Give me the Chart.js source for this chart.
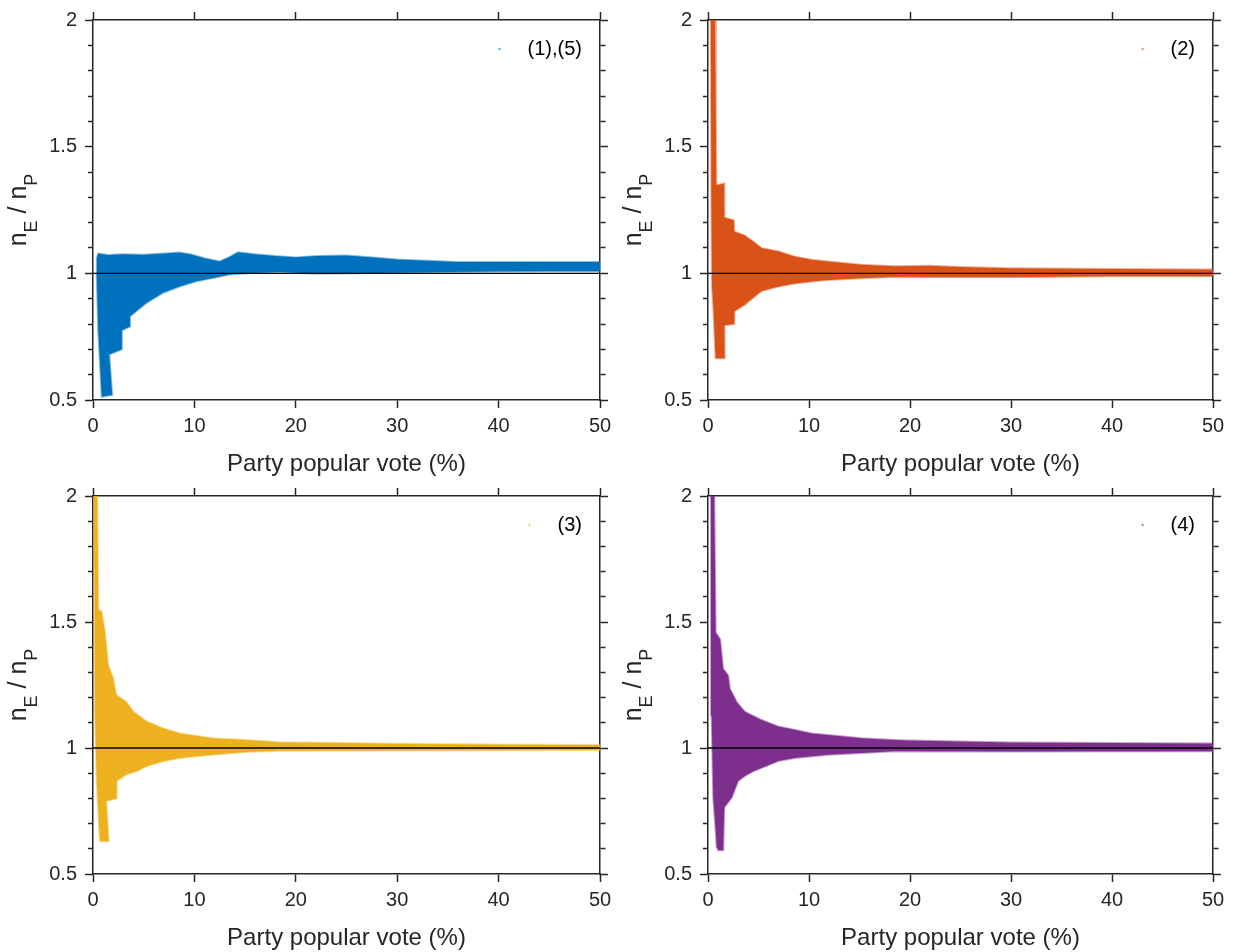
<!DOCTYPE html>
<html>
<head>
<meta charset="utf-8">
<script src="https://cdn.jsdelivr.net/npm/chart.js@4.4.1/dist/chart.umd.min.js"></script>
<style>
  html, body { margin: 0; padding: 0; background: #fff; }
  body { width: 1238px; height: 952px; position: relative; overflow: hidden; }
  canvas { position: absolute; }
</style>
</head>
<body>
<canvas id="c1"></canvas>
<canvas id="c2"></canvas>
<canvas id="c3"></canvas>
<canvas id="c4"></canvas>

<script>
// axes
const xTicks = [0, 10, 20, 30, 40, 50];
const yMajor = [0.5, 1, 1.5, 2];
const yMinorStep = 0.1;
const refLevel = 1;

const seriesLabels = ['(1),(5)', '(2)', '(3)', '(4)'];
const seriesColors = ['#0072BD', '#D95319', '#EDB120', '#7E2F8E'];
const seriesEdges = ['rgba(0,114,189,0.45)', 'rgba(217,83,25,0.45)', 'rgba(237,177,32,0.45)', 'rgba(126,47,142,0.45)'];

// outline of each point cloud (upper edge, lower edge)
const s1UpperX = [0.36, 0.38, 0.5, 1.5, 3, 5, 7, 8.5, 9.6, 11, 12.5, 13.5, 14.3, 16, 18, 20, 22, 25, 28, 30, 33, 36, 40, 45, 50];
const s1UpperY = [1.0, 1.06, 1.078, 1.072, 1.075, 1.073, 1.078, 1.082, 1.075, 1.06, 1.047, 1.065, 1.083, 1.075, 1.068, 1.063, 1.068, 1.07, 1.062, 1.055, 1.05, 1.045, 1.045, 1.045, 1.045];
const s1LowerX = [0.36, 0.52, 0.86, 1.9, 1.6, 2.85, 2.85, 3.65, 3.65, 4.5, 5.3, 6.9, 8.6, 10.2, 11.9, 13.5, 15.2, 18.4, 22, 26, 30, 35, 40, 45, 50];
const s1LowerY = [1.0, 0.77, 0.513, 0.52, 0.68, 0.70, 0.775, 0.79, 0.83, 0.858, 0.884, 0.923, 0.949, 0.969, 0.982, 0.995, 1.0, 1.005, 0.998, 1.0, 1.002, 1.005, 1.007, 1.008, 1.008];

const s2UpperX = [0.28, 0.7, 0.78, 0.82, 1.1, 1.6, 1.62, 2.55, 2.6, 3.6, 4.5, 5.3, 7, 8.6, 10.3, 11.9, 15.2, 18.5, 22, 25, 30, 40, 50];
const s2UpperY = [2.0, 2.0, 1.6, 1.35, 1.35, 1.355, 1.22, 1.21, 1.165, 1.15, 1.125, 1.10, 1.086, 1.066, 1.054, 1.047, 1.034, 1.028, 1.03, 1.025, 1.02, 1.017, 1.015];
const s2LowerX = [0.28, 0.33, 0.4, 0.55, 0.75, 1.65, 1.62, 2.6, 2.62, 3.6, 4.5, 5.3, 7, 8.6, 10.3, 11.9, 15.2, 18.5, 22, 30, 40, 50];
const s2LowerY = [2.0, 1.3, 0.95, 0.85, 0.665, 0.665, 0.795, 0.80, 0.85, 0.875, 0.905, 0.93, 0.948, 0.96, 0.968, 0.974, 0.981, 0.986, 0.985, 0.985, 0.988, 0.988];

const s3UpperX = [0.1, 0.42, 0.53, 0.86, 1.18, 1.5, 2.0, 2.3, 3.3, 4.0, 5.3, 6.9, 8.6, 11.8, 15.2, 18.4, 25, 30, 40, 50];
const s3UpperY = [2.0, 2.0, 1.55, 1.54, 1.46, 1.33, 1.275, 1.21, 1.183, 1.144, 1.105, 1.078, 1.058, 1.039, 1.032, 1.023, 1.02, 1.017, 1.014, 1.012];
const s3LowerX = [0.1, 0.2, 0.36, 0.62, 0.7, 1.55, 1.3, 2.33, 2.35, 3.3, 4.3, 5.3, 6.9, 8.6, 11.8, 15.2, 18.4, 30, 50];
const s3LowerY = [2.0, 1.13, 0.87, 0.673, 0.63, 0.63, 0.79, 0.80, 0.87, 0.895, 0.908, 0.928, 0.947, 0.96, 0.973, 0.984, 0.989, 0.99, 0.992];

const s4UpperX = [0.3, 0.62, 0.76, 1.2, 1.5, 2.0, 2.17, 2.5, 2.83, 3.65, 5.3, 6.97, 8.6, 10.3, 11.9, 15.2, 18.5, 20, 25, 30, 40, 50];
const s4UpperY = [2.0, 2.0, 1.458, 1.432, 1.314, 1.288, 1.235, 1.21, 1.183, 1.144, 1.111, 1.085, 1.072, 1.058, 1.052, 1.039, 1.032, 1.03, 1.026, 1.022, 1.02, 1.018];
const s4LowerX = [0.3, 0.36, 0.52, 0.76, 0.86, 1.02, 1.51, 1.61, 2.34, 2.99, 3.65, 4.5, 5.3, 6.97, 8.6, 11.9, 15.2, 18.5, 30, 50];
const s4LowerY = [2.0, 1.13, 0.803, 0.673, 0.607, 0.594, 0.594, 0.764, 0.803, 0.869, 0.889, 0.908, 0.921, 0.948, 0.96, 0.973, 0.98, 0.987, 0.986, 0.987];

const clouds = [
  [s1UpperX, s1UpperY, s1LowerX, s1LowerY],
  [s2UpperX, s2UpperY, s2LowerX, s2LowerY],
  [s3UpperX, s3UpperY, s3LowerX, s3LowerY],
  [s4UpperX, s4UpperY, s4LowerX, s4LowerY]
];

// plot boxes on the page
const plotBoxes = [
  {left: 93, top: 16, right: 600, bottom: 400},
  {left: 708, top: 16, right: 1213, bottom: 400},
  {left: 93, top: 492, right: 600, bottom: 874},
  {left: 708, top: 492, right: 1213, bottom: 874}
];
const margin = {left: 93, top: 16, right: 22, bottom: 76};

const FONT = '"Liberation Sans", Arial, Helvetica, sans-serif';
const INK = '#262626';

function isMajor(v) {
  return yMajor.some(m => Math.abs(m - v) < 1e-6);
}

function outline(ux, uy, lx, ly) {
  const pts = ux.map((x, i) => ({x: x, y: uy[i]}));
  for (let i = lx.length - 1; i >= 0; i--) pts.push({x: lx[i], y: ly[i]});
  return pts;
}

// n_E / n_P with subscripts, rotated
const yTitle = {
  id: 'yTitle',
  afterDraw(chart) {
    const {ctx, chartArea} = chart;
    const parts = [['n', 25, 0], ['E', 18, 11], [' / ', 25, 0], ['n', 25, 0], ['P', 18, 11]];
    ctx.save();
    ctx.translate(chartArea.left - 67, (chartArea.top + chartArea.bottom) / 2);
    ctx.rotate(-Math.PI / 2);
    ctx.fillStyle = INK;
    ctx.textBaseline = 'alphabetic';
    let total = 0;
    parts.forEach(p => { ctx.font = p[1] + 'px ' + FONT; total += ctx.measureText(p[0]).width; });
    let x = -total / 2;
    parts.forEach(p => {
      ctx.font = p[1] + 'px ' + FONT;
      ctx.fillText(p[0], x, p[2]);
      x += ctx.measureText(p[0]).width;
    });
    ctx.restore();
  }
};

// small legend in the top right corner
const cornerLegend = {
  id: 'cornerLegend',
  afterDatasetsDraw(chart, args, opts) {
    const {ctx, chartArea} = chart;
    const y = chartArea.top + 29;
    ctx.save();
    ctx.font = '20px ' + FONT;
    ctx.textBaseline = 'middle';
    ctx.textAlign = 'right';
    const textRight = chartArea.right - 18;
    const w = ctx.measureText(opts.text).width;
    ctx.fillStyle = '#000';
    ctx.fillText(opts.text, textRight, y);
    ctx.fillStyle = opts.color;
    ctx.globalAlpha = 0.6;
    ctx.beginPath();
    ctx.arc(textRight - w - 28, y, 1.2, 0, Math.PI * 2);
    ctx.fill();
    ctx.restore();
  }
};

function makePanel(i) {
  const box = plotBoxes[i];
  const canvas = document.getElementById('c' + (i + 1));
  const w = box.right - box.left + margin.left + margin.right;
  const h = box.bottom - box.top + margin.top + margin.bottom;
  canvas.width = w;
  canvas.height = h;
  canvas.style.left = (box.left - margin.left) + 'px';
  canvas.style.top = (box.top - margin.top) + 'px';

  const c = clouds[i];
  const tickFont = {family: FONT, size: 20};

  new Chart(canvas, {
    type: 'scatter',
    data: {
      datasets: [
        {
          data: [{x: xTicks[0], y: refLevel}, {x: xTicks[xTicks.length - 1], y: refLevel}],
          showLine: true,
          borderColor: '#000',
          borderWidth: 1.3,
          pointRadius: 0
        },
        {
          label: seriesLabels[i],
          data: outline(c[0], c[1], c[2], c[3]),
          showLine: true,
          fill: 'shape',
          backgroundColor: seriesColors[i],
          borderColor: seriesEdges[i],
          borderWidth: 2,
          pointRadius: 0,
          tension: 0
        }
      ]
    },
    options: {
      responsive: false,
      animation: false,
      events: [],
      layout: {padding: 0},
      plugins: {
        legend: {display: false},
        tooltip: {enabled: false},
        cornerLegend: {text: seriesLabels[i], color: seriesColors[i]}
      },
      scales: {
        x: {
          type: 'linear', position: 'bottom',
          min: xTicks[0], max: xTicks[xTicks.length - 1],
          afterBuildTicks: s => { s.ticks = xTicks.map(v => ({value: v})); },
          ticks: {font: tickFont, color: INK, padding: 6, maxRotation: 0},
          grid: {drawOnChartArea: false, tickLength: 8, tickWidth: 1.5, tickColor: INK},
          border: {display: true, color: INK, width: 1.5},
          title: {display: true, text: 'Party popular vote (%)', color: INK,
                  font: {family: FONT, size: 24, lineHeight: 1.0}, padding: {top: 0, bottom: 0}},
          afterFit: s => { s.height = margin.bottom; }
        },
        x2: {
          type: 'linear', position: 'top',
          min: xTicks[0], max: xTicks[xTicks.length - 1],
          afterBuildTicks: s => { s.ticks = xTicks.map(v => ({value: v})); },
          ticks: {display: false},
          grid: {drawOnChartArea: false, tickLength: 8, tickWidth: 1.5, tickColor: INK},
          border: {display: true, color: INK, width: 1.5},
          afterFit: s => { s.height = margin.top; }
        },
        y: {
          type: 'linear', position: 'left',
          min: yMajor[0], max: yMajor[yMajor.length - 1],
          ticks: {
            stepSize: yMinorStep, autoSkip: false, font: tickFont, color: INK, padding: 8,
            callback: v => isMajor(v) ? String(Math.round(v * 10) / 10) : ''
          },
          grid: {
            drawOnChartArea: false, tickLength: 8, tickWidth: 1.5, tickColor: INK,
            tickBorderDash: ctx => (ctx.tick && isMajor(ctx.tick.value)) ? [] : [0, 3, 5, 0]
          },
          border: {display: true, color: INK, width: 1.5},
          afterFit: s => { s.width = margin.left; }
        },
        y2: {
          type: 'linear', position: 'right',
          min: yMajor[0], max: yMajor[yMajor.length - 1],
          ticks: {display: false, stepSize: yMinorStep, autoSkip: false},
          grid: {
            drawOnChartArea: false, tickLength: 8, tickWidth: 1.5, tickColor: INK,
            tickBorderDash: ctx => (ctx.tick && isMajor(ctx.tick.value)) ? [] : [5, 10]
          },
          border: {display: true, color: INK, width: 1.5},
          afterFit: s => { s.width = margin.right; }
        }
      }
    },
    plugins: [yTitle, cornerLegend]
  });
}

[0, 1, 2, 3].forEach(makePanel);
</script>
</body>
</html>
